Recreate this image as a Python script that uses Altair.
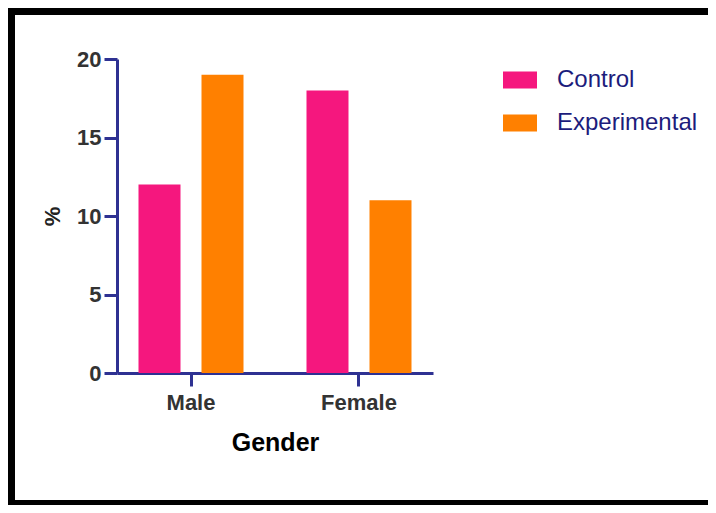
import altair as alt
import pandas as pd

genders = ["Male", "Male", "Female", "Female"]
groups = ["Control", "Experimental", "Control", "Experimental"]
percents = [12, 19, 18, 11]

group_domain = ["Control", "Experimental"]
group_colors = ["#F5177E", "#FF8000"]
gender_order = ["Male", "Female"]
y_ticks = [0, 5, 10, 15, 20]

df = pd.DataFrame({"Gender": genders, "Group": groups, "Percent": percents})

NAVY = "#2E3192"
FONT = "Liberation Sans"

bars = alt.Chart(df).mark_bar(strokeWidth=0).encode(
    x=alt.X(
        "Gender:N",
        sort=gender_order,
        scale=alt.Scale(paddingInner=0.375, paddingOuter=0.128),
        axis=alt.Axis(
            title="Gender",
            labelAngle=0,
            labelPadding=6,
            titleFontSize=25,
            titleColor="black",
            titlePadding=17,
        ),
    ),
    xOffset=alt.XOffset(
        "Group:N",
        sort=group_domain,
        scale=alt.Scale(paddingInner=1 / 3, paddingOuter=0),
    ),
    y=alt.Y(
        "Percent:Q",
        scale=alt.Scale(domain=[0, 20], nice=False, zero=True),
        axis=alt.Axis(
            title="%",
            values=y_ticks,
            labelPadding=3,
            titleFontSize=22,
            titleColor="#222222",
            titlePadding=12,
        ),
    ),
    color=alt.Color(
        "Group:N",
        scale=alt.Scale(domain=group_domain, range=group_colors),
        legend=alt.Legend(
            title=None,
            orient="none",
            legendX=386,
            legendY=4,
            padding=0,
            symbolType="M-1,-0.5H1V0.5H-1Z",
            symbolSize=1156,
            symbolStrokeWidth=0,
            symbolOpacity=1,
            labelFont=FONT,
            labelFontSize=24,
            labelColor="#1C1C7C",
            labelOffset=20,
            rowPadding=14,
        ),
    ),
)

frame_data = alt.Data(values=[{"k": 1}])
left_rule = alt.Chart(frame_data).mark_rule(color="black", strokeWidth=7).encode(
    x=alt.value(-105.5), y=alt.value(-51), y2=alt.value(446)
)
top_rule = alt.Chart(frame_data).mark_rule(color="black", strokeWidth=7).encode(
    y=alt.value(-47.5), x=alt.value(-109), x2=alt.value(591)
)
bottom_rule = alt.Chart(frame_data).mark_rule(color="black", strokeWidth=5).encode(
    y=alt.value(443.5), x=alt.value(-109), x2=alt.value(591)
)

chart = alt.layer(bars, left_rule, top_rule, bottom_rule).properties(
    width=316,
    height=314,
    autosize=alt.AutoSizeParams(type="none"),
    padding={"left": 109, "top": 51, "right": 275, "bottom": 132},
    background="white",
).configure_view(stroke=None).configure_axis(
    grid=False,
    domainColor=NAVY,
    domainWidth=3,
    tickColor=NAVY,
    tickWidth=3,
    tickSize=13,
    labelFont=FONT,
    labelFontSize=22,
    labelFontWeight="bold",
    labelColor="#333333",
    titleFont=FONT,
    titleFontWeight="bold",
)

chart.save("out.html", embed_options={"renderer": "svg", "actions": False})
